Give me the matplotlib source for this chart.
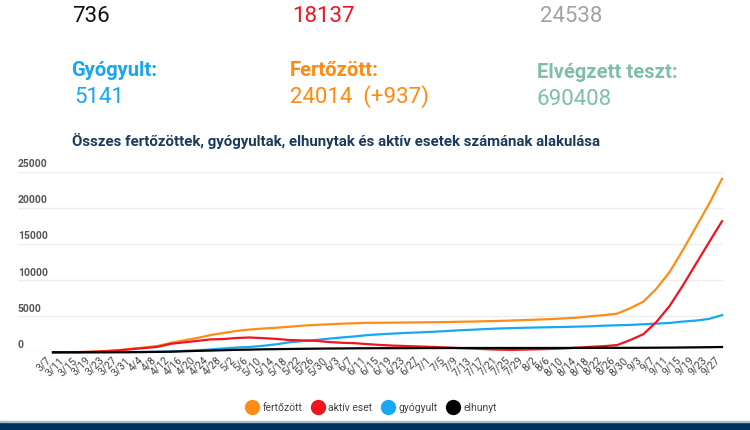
import numpy as np
import matplotlib
matplotlib.use('Agg')
import matplotlib.pyplot as plt
from matplotlib.lines import Line2D
from matplotlib.patches import Rectangle
import matplotlib.transforms as mtransforms

plt.rcParams['font.family'] = ['Roboto', 'DejaVu Sans']

# tick labels, one every 4 days from 3/7 to 9/27
dates = ['3/7', '3/11', '3/15', '3/19', '3/23', '3/27', '3/31', '4/4', '4/8', '4/12',
         '4/16', '4/20', '4/24', '4/28', '5/2', '5/6', '5/10', '5/14', '5/18', '5/22',
         '5/26', '5/30', '6/3', '6/7', '6/11', '6/15', '6/19', '6/23', '6/27', '7/1',
         '7/5', '7/9', '7/13', '7/17', '7/21', '7/25', '7/29', '8/2', '8/6', '8/10',
         '8/14', '8/18', '8/22', '8/26', '8/30', '9/3', '9/7', '9/11', '9/15', '9/19',
         '9/23', '9/27']
days = np.arange(0, 4 * len(dates), 4)

# values at each labelled date
fertozott = [5, 13, 32, 73, 167, 300, 492, 678, 895, 1314,
             1652, 1984, 2382, 2680, 2960, 3150, 3290, 3400, 3530, 3685,
             3793, 3870, 3960, 4017, 4080, 4090, 4102, 4125, 4145, 4160,
             4183, 4229, 4257, 4305, 4340, 4400, 4465, 4530, 4600, 4700,
             4800, 4990, 5150, 5350, 6100, 7000, 8800, 11100, 14100, 17300,
             20500, 24014]
aktiv = [5, 13, 30, 70, 144, 256, 439, 588, 760, 1180,
         1380, 1580, 1780, 1840, 1980, 2050, 1960, 1860, 1700, 1650,
         1590, 1430, 1320, 1260, 1130, 1010, 920, 860, 800, 740,
         660, 580, 520, 430, 370, 340, 380, 420, 470, 540,
         640, 760, 850, 1000, 1690, 2500, 4200, 6400, 9200, 12200,
         15200, 18137]
gyogyult = [0, 0, 1, 2, 16, 34, 37, 58, 77, 115,
            199, 271, 392, 540, 658, 740, 900, 1100, 1380, 1550,
            1700, 1880, 2050, 2200, 2380, 2500, 2600, 2690, 2760, 2840,
            2940, 3050, 3130, 3220, 3300, 3350, 3400, 3440, 3480, 3510,
            3560, 3600, 3690, 3740, 3790, 3880, 3970, 4060, 4250, 4390,
            4620, 5141]
elhunyt = [0, 0, 1, 1, 7, 10, 16, 32, 58, 85,
           142, 199, 239, 291, 340, 371, 413, 436, 462, 484,
           505, 524, 534, 551, 560, 567, 570, 572, 585, 588,
           590, 594, 595, 596, 596, 597, 597, 599, 600, 603,
           607, 610, 614, 616, 620, 627, 638, 651, 665, 684,
           704, 736]

yticks = [0, 5000, 10000, 15000, 20000, 25000]

W, H = 750, 430
def px(x, y):
    return x / W, 1 - y / H

fig = plt.figure(figsize=(7.5, 4.3), dpi=100)

# header numbers (their labels are above the cut edge)
fig.text(*px(72, 22), '736', color='#111111', fontsize=16, va='baseline')
fig.text(*px(292, 22), '18137', color='#f0141e', fontsize=16, va='baseline')
fig.text(*px(540, 22), '24538', color='#a3a3a3', fontsize=16, va='baseline')

fig.text(*px(71, 76), 'Gyógyult:', color='#17a6f2', fontsize=14.5, fontweight='bold', va='baseline')
fig.text(*px(74, 103), '5141', color='#17a6f2', fontsize=16, va='baseline')
fig.text(*px(290, 76), 'Fertőzött:', color='#ff8a12', fontsize=14.5, fontweight='bold', va='baseline')
fig.text(*px(290, 103), '24014  (+937)', color='#ff8a12', fontsize=16, va='baseline')
fig.text(*px(537, 78), 'Elvégzett teszt:', color='#7dbfa9', fontsize=14.5, fontweight='bold', va='baseline')
fig.text(*px(537, 105), '690408', color='#7dbfa9', fontsize=16, va='baseline')

fig.text(*px(72, 146), 'Összes fertőzöttek, gyógyultak, elhunytak és aktív esetek számának alakulása',
         color='#1b3a5c', fontsize=10.8, fontweight='bold', va='baseline')

# plot area
ax = fig.add_axes([18 / W, 1 - 352.3 / H, (723 - 18) / W, (352.3 - 171.7) / H])
ppd = (722 - 53) / 204
ax.set_xlim(-(53 - 18) / ppd, 204 + 1 / ppd)
ax.set_ylim(0, 25000)

ax.plot(days, fertozott, color='#ff8c14', lw=1.6, clip_on=False, zorder=3)
ax.plot(days, gyogyult, color='#17a8f5', lw=1.6, clip_on=False, zorder=3)
ax.plot(days, elhunyt, color='#000000', lw=1.6, clip_on=False, zorder=4)
ax.plot(days, aktiv, color='#f0141e', lw=1.6, clip_on=False, zorder=3)

ax.set_yticks(yticks)
ax.yaxis.grid(True, color='#eeeeee', lw=1)
ax.set_axisbelow(True)
ax.tick_params(axis='y', left=False, labelleft=False)
trans = mtransforms.blended_transform_factory(ax.transAxes, ax.transData)
for v in yticks:
    ax.text(0, v + 350, str(v), transform=trans, fontsize=7.5, color='#555555',
            fontweight='bold', ha='left', va='bottom')

ax.set_xticks(days)
ax.set_xticklabels(dates, rotation=45, ha='right', fontsize=7.5, color='#444444')
ax.tick_params(axis='x', length=0, pad=2)
for s in ax.spines.values():
    s.set_visible(False)

# legend
handles = [Line2D([], [], ls='none', marker='o', markersize=10, color=c)
           for c in ['#ff8c14', '#f0141e', '#17a8f5', '#000000']]
leg = fig.legend(handles, ['fertőzött', 'aktív eset', 'gyógyult', 'elhunyt'],
                 loc='center', bbox_to_anchor=px(372, 408), ncol=4, frameon=False,
                 fontsize=7.5, handlelength=1.0, handletextpad=0.5, columnspacing=1.0)
for t in leg.get_texts():
    t.set_color('#444444')

# footer band
fig.patches.append(Rectangle((0, 0), 1, 8 / H, transform=fig.transFigure,
                             color='#00305a', zorder=0))
fig.patches.append(Rectangle((0, 8 / H), 1, 1.2 / H, transform=fig.transFigure,
                             color='#a9bccb', zorder=0))

fig.savefig('out.png', dpi=100)
